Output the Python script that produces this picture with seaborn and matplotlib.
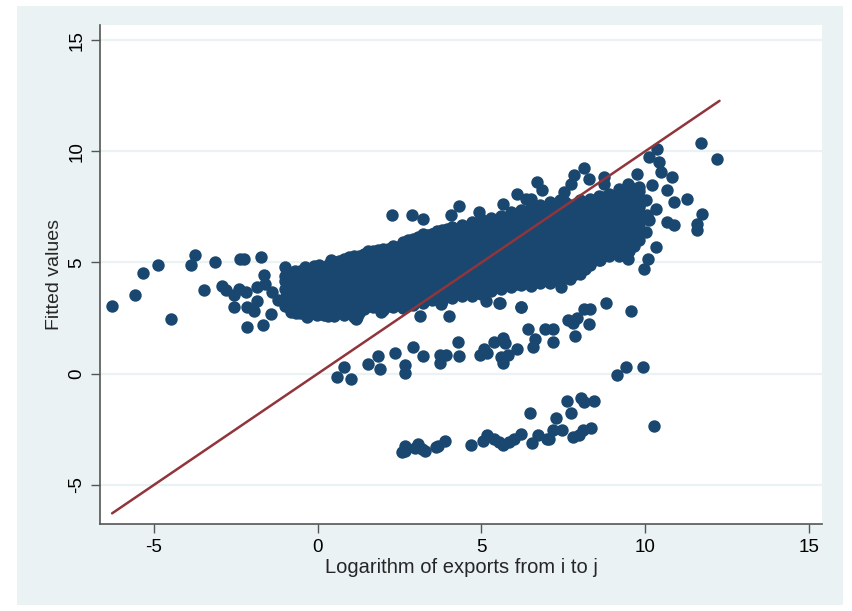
import matplotlib
matplotlib.use("Agg")
import matplotlib.pyplot as plt
import pandas as pd
import seaborn as sns
from matplotlib.patches import Rectangle

# dense core of the cloud, one column of y values per x position
core_x = [-1.0, -0.7, -0.4, -0.1, 0.2, 0.5, 0.8, 1.1, 1.4, 1.7, 2.0, 2.3, 2.6,
          2.9, 3.2, 3.5, 3.8, 4.1, 4.4, 4.7, 5.0, 5.3, 5.6, 5.9, 6.2, 6.5,
          6.8, 7.1, 7.4, 7.7, 8.0, 8.3, 8.6, 8.9, 9.2, 9.5, 9.8]
core_y = [
    [3.05, 3.4, 3.8, 4.15, 4.4],
    [2.85, 3.2, 3.55, 3.95, 4.3, 4.6],
    [2.7, 3.1, 3.45, 3.8, 4.2, 4.55, 4.8],
    [2.75, 3.05, 3.4, 3.8, 4.15, 4.5, 4.85],
    [2.65, 3.0, 3.35, 3.7, 4.1, 4.45, 4.8],
    [2.6, 2.95, 3.3, 3.7, 4.05, 4.45, 4.8, 5.0],
    [2.65, 3.0, 3.4, 3.75, 4.1, 4.5, 4.85, 5.15],
    [2.55, 2.95, 3.35, 3.7, 4.05, 4.4, 4.8, 5.1, 5.3],
    [2.9, 3.25, 3.6, 4.0, 4.35, 4.7, 5.05, 5.4],
    [3.0, 3.35, 3.7, 4.05, 4.45, 4.8, 5.15, 5.5],
    [2.85, 3.2, 3.6, 3.95, 4.3, 4.7, 5.05, 5.4, 5.6],
    [3.0, 3.35, 3.7, 4.1, 4.45, 4.8, 5.2, 5.5, 5.75],
    [2.95, 3.3, 3.7, 4.05, 4.45, 4.8, 5.15, 5.5, 5.9],
    [3.1, 3.45, 3.85, 4.2, 4.6, 4.95, 5.3, 5.7, 6.05],
    [3.2, 3.55, 3.9, 4.3, 4.65, 5.0, 5.4, 5.75, 6.2],
    [3.3, 3.65, 4.0, 4.4, 4.75, 5.1, 5.5, 5.85, 6.3],
    [3.25, 3.6, 4.0, 4.35, 4.7, 5.1, 5.45, 5.8, 6.15, 6.45],
    [3.4, 3.75, 4.1, 4.5, 4.85, 5.2, 5.6, 5.95, 6.3, 6.6],
    [3.5, 3.85, 4.2, 4.6, 4.95, 5.3, 5.7, 6.05, 6.4, 6.7],
    [3.5, 3.9, 4.25, 4.6, 5.0, 5.35, 5.7, 6.1, 6.45, 6.8],
    [3.6, 3.95, 4.35, 4.7, 5.05, 5.45, 5.8, 6.15, 6.55, 6.95],
    [3.7, 4.05, 4.4, 4.8, 5.15, 5.5, 5.9, 6.25, 6.6, 7.0],
    [3.8, 4.15, 4.5, 4.9, 5.25, 5.6, 6.0, 6.35, 6.7, 7.1],
    [3.9, 4.25, 4.6, 5.0, 5.35, 5.7, 6.1, 6.45, 6.8, 7.25],
    [4.0, 4.35, 4.7, 5.1, 5.45, 5.8, 6.2, 6.55, 6.9, 7.35],
    [3.95, 4.3, 4.7, 5.05, 5.4, 5.8, 6.15, 6.5, 6.9, 7.25, 7.5],
    [4.1, 4.45, 4.8, 5.2, 5.55, 5.9, 6.3, 6.65, 7.0, 7.35, 7.6],
    [4.1, 4.5, 4.85, 5.2, 5.6, 5.95, 6.3, 6.7, 7.05, 7.4, 7.7],
    [4.2, 4.55, 4.95, 5.3, 5.65, 6.05, 6.4, 6.75, 7.15, 7.5, 7.8],
    [4.3, 4.65, 5.0, 5.4, 5.75, 6.1, 6.5, 6.85, 7.2, 7.6],
    [4.5, 4.85, 5.2, 5.6, 5.95, 6.3, 6.7, 7.05, 7.4, 7.8],
    [4.9, 5.25, 5.6, 6.0, 6.35, 6.7, 7.1, 7.45, 7.85],
    [5.2, 5.55, 5.9, 6.3, 6.65, 7.0, 7.4, 7.75, 8.0],
    [5.3, 5.65, 6.0, 6.4, 6.75, 7.1, 7.5, 7.85, 8.1],
    [5.3, 5.7, 6.05, 6.4, 6.8, 7.15, 7.5, 7.9, 8.3],
    [5.5, 5.85, 6.2, 6.6, 6.95, 7.3, 7.7, 8.05, 8.45],
    [6.0, 6.4, 6.75, 7.1, 7.5, 7.85, 8.2, 8.4],
]

# staggered columns filling the gaps of the core
core2_x = [-0.85, -0.55, -0.25, 0.05, 0.35, 0.65, 0.95, 1.25, 1.55, 1.85,
           2.15, 2.45, 2.75, 3.05, 3.35, 3.65, 3.95, 4.25, 4.55, 4.85,
           5.15, 5.45, 5.75, 6.05, 6.35, 6.65, 6.95, 7.25, 7.55, 7.85,
           8.15, 8.45, 8.75, 9.05, 9.35, 9.65]
core2_y = [
    [2.95, 3.3, 3.65, 4.0, 4.4],
    [2.75, 3.1, 3.45, 3.85, 4.2, 4.6],
    [2.8, 3.2, 3.6, 3.95, 4.35, 4.7],
    [2.85, 3.2, 3.55, 3.95, 4.3, 4.65, 4.9],
    [2.8, 3.15, 3.5, 3.9, 4.25, 4.6, 4.95],
    [2.8, 3.15, 3.5, 3.9, 4.25, 4.65, 5.05],
    [2.8, 3.2, 3.55, 3.9, 4.3, 4.65, 5.0, 5.25],
    [2.75, 3.1, 3.5, 3.85, 4.2, 4.6, 4.95, 5.3],
    [3.05, 3.45, 3.8, 4.2, 4.55, 4.9, 5.3, 5.5],
    [3.05, 3.4, 3.8, 4.15, 4.5, 4.9, 5.25, 5.55],
    [3.05, 3.4, 3.8, 4.15, 4.5, 4.9, 5.25, 5.6],
    [3.15, 3.5, 3.9, 4.25, 4.6, 5.0, 5.35, 5.7],
    [3.15, 3.5, 3.9, 4.25, 4.65, 5.0, 5.35, 5.75, 6.0],
    [3.3, 3.65, 4.0, 4.4, 4.75, 5.15, 5.5, 5.9, 6.15],
    [3.4, 3.75, 4.1, 4.5, 4.85, 5.25, 5.6, 5.95, 6.25],
    [3.45, 3.8, 4.2, 4.55, 4.9, 5.3, 5.65, 6.0, 6.4],
    [3.55, 3.9, 4.3, 4.65, 5.0, 5.4, 5.75, 6.1, 6.5],
    [3.6, 3.95, 4.3, 4.7, 5.05, 5.4, 5.8, 6.15, 6.5],
    [3.7, 4.05, 4.4, 4.8, 5.15, 5.5, 5.9, 6.25, 6.6],
    [3.75, 4.1, 4.5, 4.85, 5.2, 5.6, 5.95, 6.3, 6.7],
    [3.8, 4.2, 4.55, 4.9, 5.3, 5.65, 6.0, 6.4, 6.75],
    [3.9, 4.25, 4.6, 5.0, 5.35, 5.7, 6.1, 6.45, 6.8],
    [4.0, 4.35, 4.7, 5.1, 5.45, 5.8, 6.2, 6.55, 6.9],
    [4.05, 4.45, 4.8, 5.15, 5.55, 5.9, 6.25, 6.65, 7.0],
    [4.15, 4.5, 4.9, 5.25, 5.6, 6.0, 6.35, 6.7, 7.1],
    [4.15, 4.5, 4.9, 5.25, 5.65, 6.0, 6.35, 6.75, 7.1, 7.45],
    [4.25, 4.65, 5.0, 5.4, 5.75, 6.1, 6.5, 6.85, 7.2, 7.5],
    [4.3, 4.7, 5.05, 5.4, 5.8, 6.15, 6.5, 6.9, 7.25, 7.6],
    [4.4, 4.75, 5.15, 5.5, 5.85, 6.25, 6.6, 6.95, 7.35, 7.7],
    [4.5, 4.85, 5.2, 5.6, 5.95, 6.3, 6.7, 7.05, 7.4],
    [4.7, 5.05, 5.4, 5.8, 6.15, 6.5, 6.9, 7.25, 7.6],
    [5.1, 5.45, 5.8, 6.15, 6.55, 6.9, 7.25, 7.65],
    [5.35, 5.75, 6.1, 6.5, 6.85, 7.2, 7.6, 7.95],
    [5.5, 5.85, 6.2, 6.6, 6.95, 7.3, 7.7, 8.0],
    [5.6, 5.95, 6.3, 6.7, 7.05, 7.4, 7.8, 8.15],
    [5.75, 6.1, 6.5, 6.85, 7.2, 7.6, 7.95],
]

# scattered points around the cloud (left tail, edges, right tail)
edge_x = [-6.28, -5.58, -5.35, -4.88, -4.49, -3.88, -3.75, -3.48, -3.14, -2.91,
          -2.81, -2.57, -2.57, -2.42, -2.38, -2.25, -2.2, -2.15, -2.15, -1.95,
          -1.87, -1.87, -1.74, -1.67, -1.64, -1.62, -1.44, -1.4, -1.2, -1.0,
          -0.82, -0.67, -0.34, -0.01, 0.3, 0.4, 0.75, 1.16, 1.21, 1.92,
          3.13, 4.01, 3.76, 5.14, 5.54, 6.2, 7.42, 7.71, 8.59, 8.59,
          9.46, 9.97, 10.1, 10.32, 2.28, 2.89, 3.2, 3.2, 3.5, 3.98,
          4.06, 4.31, 4.93, 5.67, 6.07, 6.35, 6.5, 6.71, 6.86, 7.52,
          7.73, 7.83, 8.13, 8.28, 8.74, 8.74, 9.2, 9.46, 9.66, 9.71,
          9.76, 9.81, 10.02, 10.02, 10.07, 10.12, 10.12, 10.22, 10.32, 10.37,
          10.42, 10.47, 10.68, 10.68, 10.83, 10.88, 10.88, 11.29, 11.59, 11.59,
          11.69, 11.75, 12.2, 9.46, 8.63]
edge_y = [3.06, 3.54, 4.54, 4.9, 2.46, 4.9, 5.32, 3.78, 5.04, 3.96,
          3.77, 3.54, 2.99, 3.81, 5.17, 5.17, 3.66, 2.09, 3.02, 2.84,
          3.89, 3.26, 5.24, 2.19, 4.45, 4.04, 2.69, 3.66, 3.3, 4.79,
          2.76, 2.72, 2.57, 2.64, 2.61, 5.09, 2.72, 2.46, 2.54, 2.76,
          2.61, 2.61, 3.14, 3.29, 3.17, 2.99, 3.89, 4.27, 5.32, 5.09,
          5.14, 4.72, 5.14, 5.69, 7.15, 7.15, 6.94, 6.29, 6.29, 6.44,
          7.15, 7.54, 7.27, 7.64, 8.09, 7.87, 7.87, 8.62, 8.24, 8.17,
          8.54, 8.92, 9.26, 8.77, 8.84, 8.54, 8.17, 8.54, 6.59, 8.09,
          8.99, 7.57, 7.79, 6.36, 7.12, 9.75, 6.89, 8.47, 7.42, 10.12,
          9.52, 9.07, 8.24, 6.82, 8.85, 7.72, 6.67, 7.87, 6.74, 6.44,
          10.37, 7.16, 9.67, 5.99, 5.09]

# middle band below the cloud
mid_x = [0.6, 0.8, 1.02, 1.52, 1.85, 1.9, 2.35, 2.65, 2.65, 2.9,
         3.22, 3.72, 3.73, 3.92, 4.27, 4.3, 4.97, 5.08, 5.18, 5.38,
         5.67, 5.72, 5.6, 5.67, 5.8, 6.08, 6.58, 6.63, 6.43, 6.93,
         7.18, 7.17, 7.63, 7.8, 7.93, 7.85, 8.13, 8.3, 8.27, 8.8,
         9.58, 6.22, 5.58, 9.13, 9.42, 9.92]
mid_y = [-0.14, 0.3, -0.23, 0.44, 0.79, 0.21, 0.95, 0.39, 0.04, 1.18,
         0.79, 0.86, 0.48, 0.86, 1.41, 0.81, 0.86, 1.09, 0.92, 1.44,
         1.62, 1.39, 0.74, 0.48, 0.83, 1.13, 1.18, 1.58, 2.02, 2.02,
         2.02, 1.41, 2.41, 2.27, 2.5, 1.71, 2.89, 2.89, 2.24, 3.2,
         2.82, 2.98, 3.2, -0.05, 0.3, 0.3]

# lowest band
low_x = [2.57, 2.65, 2.68, 2.97, 3.05, 3.27, 3.18, 3.6, 3.67, 3.88,
         4.67, 5.05, 5.18, 5.38, 5.55, 5.67, 5.83, 6.0, 6.22, 6.47,
         6.55, 6.72, 7.0, 7.05, 7.27, 7.18, 7.47, 7.6, 7.73, 7.8,
         7.97, 8.05, 8.13, 8.1, 8.43, 8.35, 10.27]
low_y = [-3.54, -3.26, -3.49, -3.36, -3.17, -3.49, -3.4, -3.31, -3.26, -3.01,
         -3.19, -3.01, -2.78, -2.96, -3.05, -3.22, -3.05, -2.96, -2.73, -1.78,
         -3.13, -2.78, -2.96, -2.96, -1.99, -2.52, -2.52, -1.23, -1.76, -2.87,
         -2.78, -1.11, -1.29, -2.52, -1.23, -2.46, -2.34]

# 45 degree reference line
line_x = [-6.28, 12.27]
line_y = [-6.28, 12.27]

xs, ys = [], []
for cols_x, cols_y in [(core_x, core_y), (core2_x, core2_y)]:
    for cx, col in zip(cols_x, cols_y):
        xs.extend([cx] * len(col))
        ys.extend(col)
xs += edge_x + mid_x + low_x
ys += edge_y + mid_y + low_y
df = pd.DataFrame({"x": xs, "y": ys})

sns.set_theme(style="white")
plt.rcParams["font.family"] = ["Liberation Sans", "DejaVu Sans"]
plt.rcParams["axes.unicode_minus"] = False

W, H = 853, 611
fig = plt.figure(figsize=(W / 100, H / 100), dpi=100)
fig.patches.append(Rectangle((17 / W, 6 / H), 826 / W, 599 / H, transform=fig.transFigure,
                             facecolor="#EAF2F3", edgecolor="none", zorder=-10))
ax = fig.add_axes([100 / W, (H - 524) / H, 722 / W, 499 / H])
ax.set_facecolor("white")

sns.scatterplot(data=df, x="x", y="y", ax=ax, color="#1A476F", s=80,
                linewidth=0, zorder=3)
sns.lineplot(x=line_x, y=line_y, ax=ax, color="#90353B", linewidth=1.8, zorder=4)

ax.set_xlim(-6.65, 15.4)
ax.set_ylim(-6.76, 15.68)
ax.set_xticks([-5, 0, 5, 10, 15])
ax.set_yticks([-5, 0, 5, 10, 15])
ax.set_yticklabels(["-5", "0", "5", "10", "15"], rotation=90, va="center")
ax.grid(axis="y", color="#EAF2F3", linewidth=1.6)
ax.set_axisbelow(True)

for side in ["top", "right"]:
    ax.spines[side].set_visible(False)
for side in ["left", "bottom"]:
    ax.spines[side].set_color("#555555")
    ax.spines[side].set_linewidth(1.2)

ax.tick_params(axis="both", direction="out", length=6.5, width=1, color="#555555",
               labelsize=13.5, labelcolor="black", left=True, bottom=True, pad=4)
ax.set_xlabel("Logarithm of exports from i to j", fontsize=14.5, labelpad=2)
ax.set_ylabel("Fitted values", fontsize=14, labelpad=4)

fig.savefig("out.png", dpi=100)
